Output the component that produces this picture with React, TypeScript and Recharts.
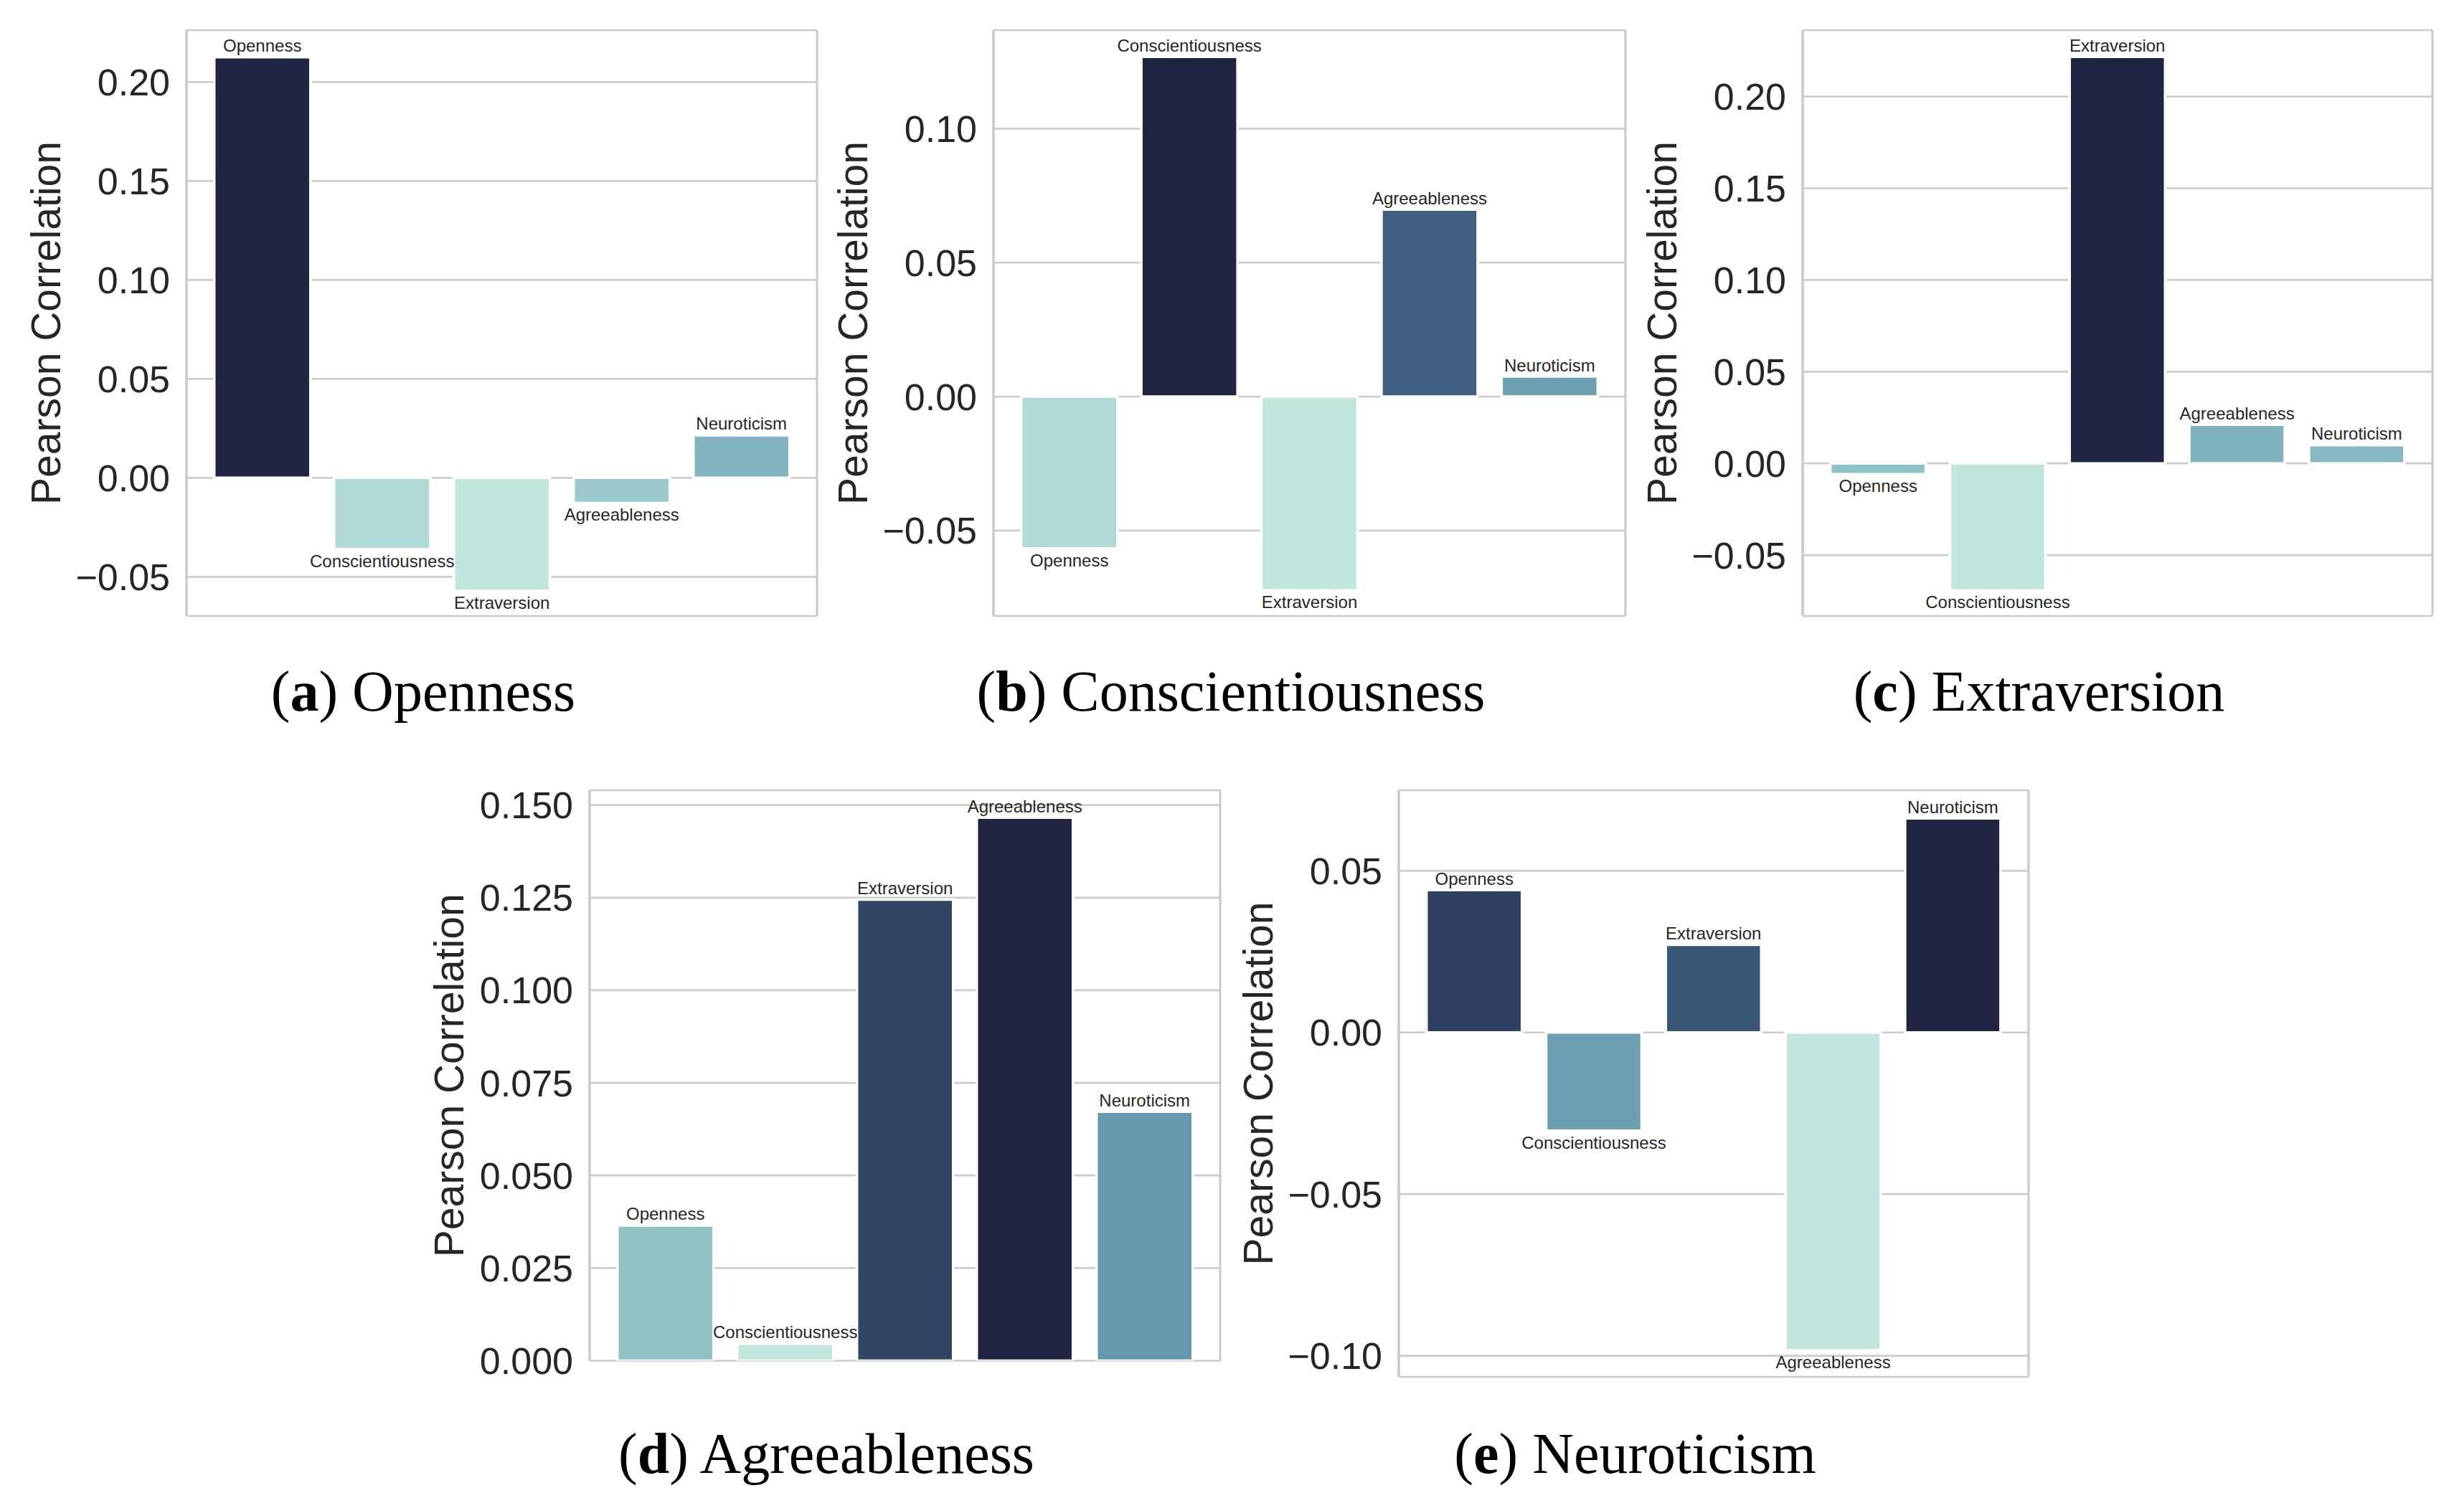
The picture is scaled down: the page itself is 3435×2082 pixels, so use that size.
import React from 'react';
import { BarChart, Bar, XAxis, YAxis, CartesianGrid, Cell, LabelList, Label } from 'recharts';

// ---------- data ----------
const traits = ['Openness', 'Conscientiousness', 'Extraversion', 'Agreeableness', 'Neuroticism'];

const opennessValues = [0.2125, -0.036, -0.0571, -0.0127, 0.0215];
const conscientiousnessValues = [-0.0567, 0.1268, -0.0723, 0.0698, 0.0075];
const extraversionValues = [-0.0059, -0.0693, 0.2216, 0.0211, 0.0099];
const agreeablenessValues = [0.0365, 0.0046, 0.1245, 0.1466, 0.0672];
const neuroticismValues = [0.044, -0.0304, 0.0271, -0.0983, 0.0662];

const opennessColors = ['#202440', '#b0d9d5', '#c2e5de', '#9ccacc', '#83b4bf'];
const conscientiousnessColors = ['#b1d9d5', '#202440', '#c2e5de', '#405e80', '#6ea1b2'];
const extraversionColors = ['#90c2c6', '#c2e5de', '#202440', '#80b2bd', '#88b9c3'];
const agreeablenessColors = ['#8ec0c4', '#c2e5de', '#314565', '#202440', '#6798ae'];
const neuroticismColors = ['#2f4162', '#6c9fb0', '#3a5675', '#c2e5de', '#202440'];

const opennessTicks = [-0.05, 0, 0.05, 0.1, 0.15, 0.2];
const opennessTickLabels = ['\u22120.05', '0.00', '0.05', '0.10', '0.15', '0.20'];
const conscientiousnessTicks = [-0.05, 0, 0.05, 0.1];
const conscientiousnessTickLabels = ['\u22120.05', '0.00', '0.05', '0.10'];
const extraversionTicks = [-0.05, 0, 0.05, 0.1, 0.15, 0.2];
const extraversionTickLabels = ['\u22120.05', '0.00', '0.05', '0.10', '0.15', '0.20'];
const agreeablenessTicks = [0, 0.025, 0.05, 0.075, 0.1, 0.125, 0.15];
const agreeablenessTickLabels = ['0.000', '0.025', '0.050', '0.075', '0.100', '0.125', '0.150'];
const neuroticismTicks = [-0.1, -0.05, 0, 0.05];
const neuroticismTickLabels = ['\u22120.10', '\u22120.05', '0.00', '0.05'];

const opennessDomain = [-0.0698, 0.2262];
const conscientiousnessDomain = [-0.0819, 0.1368];
const extraversionDomain = [-0.0832, 0.2362];
const agreeablenessDomain = [0, 0.154];
const neuroticismDomain = [-0.1065, 0.0749];

// ---------- styling ----------
const SANS = '"Liberation Sans", Arial, Helvetica, sans-serif';
const SERIF = '"Liberation Serif", "Times New Roman", serif';
const TEXT = '#262626';
const GRID = '#cccccc';
const YW = 240;
const MT = 20;
const MR = 30;
const MB = 40;

type PanelProps = {
  values: number[];
  colors: string[];
  ticks: number[];
  tickLabels: string[];
  domain: number[];
  frame: { l: number; r: number; t: number; b: number };
};

const frameSides = ({ offset }: any) => [offset.left, offset.left + offset.width];

const Panel = ({ values, colors, ticks, tickLabels, domain, frame }: PanelProps) => {
  const data = traits.map((name, i) => ({ name, value: values[i] }));
  const fw = frame.r - frame.l;
  const fh = frame.b - frame.t;
  const width = YW + fw + MR;
  const height = MT + fh + MB;

  const fmt = (v: number) => {
    const idx = ticks.findIndex((t) => Math.abs(t - v) < 1e-9);
    return idx >= 0 ? tickLabels[idx] : String(v);
  };

  const renderBarLabel = (props: any) => {
    const x = Number(props.x);
    const y = Number(props.y);
    const w = Number(props.width);
    const h = Number(props.height);
    const idx = props.index;
    const v = values[idx];
    const top = Math.min(y, y + h);
    const bottom = Math.max(y, y + h);
    const ty = v >= 0 ? top - 7.5 : bottom + 25;
    return (
      <text x={x + w / 2} y={ty} textAnchor="middle" fontSize={24} fill={TEXT} fontFamily={SANS}>
        {traits[idx]}
      </text>
    );
  };

  const renderYLabel = (props: any) => {
    const vb = props.viewBox || {};
    const cx = vb.x + vb.width - 196;
    const cy = vb.y + vb.height / 2;
    return (
      <text
        x={cx}
        y={cy}
        transform={`rotate(-90, ${cx}, ${cy})`}
        textAnchor="middle"
        dominantBaseline="central"
        fontSize={57}
        fill={TEXT}
        fontFamily={SANS}
      >
        Pearson Correlation
      </text>
    );
  };

  return (
    <div style={{ position: 'absolute', left: frame.l - YW, top: frame.t - MT, width, height }}>
      <BarChart
        width={width}
        height={height}
        data={data}
        margin={{ top: MT, right: MR, bottom: MB, left: 0 }}
        barCategoryGap="10%"
      >
        <CartesianGrid horizontal vertical={false} stroke={GRID} strokeWidth={2.7} />
        <CartesianGrid
          horizontal={false}
          vertical
          verticalCoordinatesGenerator={frameSides}
          stroke={GRID}
          strokeWidth={3.3}
        />
        <XAxis
          dataKey="name"
          height={0}
          tick={false}
          tickLine={false}
          axisLine={{ stroke: GRID, strokeWidth: 3.3 }}
          padding={{ left: 22, right: 22 }}
        />
        <XAxis
          xAxisId="top"
          orientation="top"
          dataKey="name"
          height={0}
          tick={false}
          tickLine={false}
          axisLine={{ stroke: GRID, strokeWidth: 3.3 }}
        />
        <YAxis
          type="number"
          domain={domain}
          ticks={ticks}
          width={YW}
          tickFormatter={fmt}
          tickLine={false}
          tickSize={0}
          tickMargin={23}
          axisLine={{ stroke: GRID, strokeWidth: 3.3 }}
          tick={{ fontSize: 52, fill: TEXT, fontFamily: SANS }}
          interval={0}
          allowDataOverflow
        >
          <Label content={renderYLabel} />
        </YAxis>
        <Bar dataKey="value" isAnimationActive={false} stroke="#ffffff" strokeWidth={3.5}>
          {data.map((d, i) => (
            <Cell key={d.name} fill={colors[i]} />
          ))}
          <LabelList dataKey="name" content={renderBarLabel} />
        </Bar>
      </BarChart>
    </div>
  );
};

const panels = [
  {
    key: 'a',
    title: 'Openness',
    values: opennessValues,
    colors: opennessColors,
    ticks: opennessTicks,
    tickLabels: opennessTickLabels,
    domain: opennessDomain,
    frame: { l: 260, r: 1139, t: 42, b: 859 },
    captionY: 991,
  },
  {
    key: 'b',
    title: 'Conscientiousness',
    values: conscientiousnessValues,
    colors: conscientiousnessColors,
    ticks: conscientiousnessTicks,
    tickLabels: conscientiousnessTickLabels,
    domain: conscientiousnessDomain,
    frame: { l: 1385, r: 2266, t: 42, b: 859 },
    captionY: 991,
  },
  {
    key: 'c',
    title: 'Extraversion',
    values: extraversionValues,
    colors: extraversionColors,
    ticks: extraversionTicks,
    tickLabels: extraversionTickLabels,
    domain: extraversionDomain,
    frame: { l: 2513, r: 3391, t: 42, b: 859 },
    captionY: 991,
  },
  {
    key: 'd',
    title: 'Agreeableness',
    values: agreeablenessValues,
    colors: agreeablenessColors,
    ticks: agreeablenessTicks,
    tickLabels: agreeablenessTickLabels,
    domain: agreeablenessDomain,
    frame: { l: 822, r: 1701, t: 1102, b: 1897.5 },
    captionY: 2054,
  },
  {
    key: 'e',
    title: 'Neuroticism',
    values: neuroticismValues,
    colors: neuroticismColors,
    ticks: neuroticismTicks,
    tickLabels: neuroticismTickLabels,
    domain: neuroticismDomain,
    frame: { l: 1950, r: 2828, t: 1102, b: 1920 },
    captionY: 2054,
  },
];

export default function App() {
  return (
    <div
      style={{
        position: 'absolute',
        left: 0,
        top: 0,
        width: 3435,
        height: 2082,
        background: '#ffffff',
        overflow: 'hidden',
      }}
    >
      {panels.map((p) => (
        <Panel
          key={p.key}
          values={p.values}
          colors={p.colors}
          ticks={p.ticks}
          tickLabels={p.tickLabels}
          domain={p.domain}
          frame={p.frame}
        />
      ))}
      <svg
        width={3435}
        height={2082}
        style={{ position: 'absolute', left: 0, top: 0, pointerEvents: 'none' }}
      >
        {panels.map((p) => (
          <text
            key={p.key}
            x={(p.frame.l + p.frame.r) / 2 - 109.5}
            y={p.captionY}
            textAnchor="middle"
            fontSize={80}
            fontFamily={SERIF}
            fill="#000000"
          >
            (<tspan fontWeight="bold">{p.key}</tspan>) {p.title}
          </text>
        ))}
      </svg>
    </div>
  );
}
